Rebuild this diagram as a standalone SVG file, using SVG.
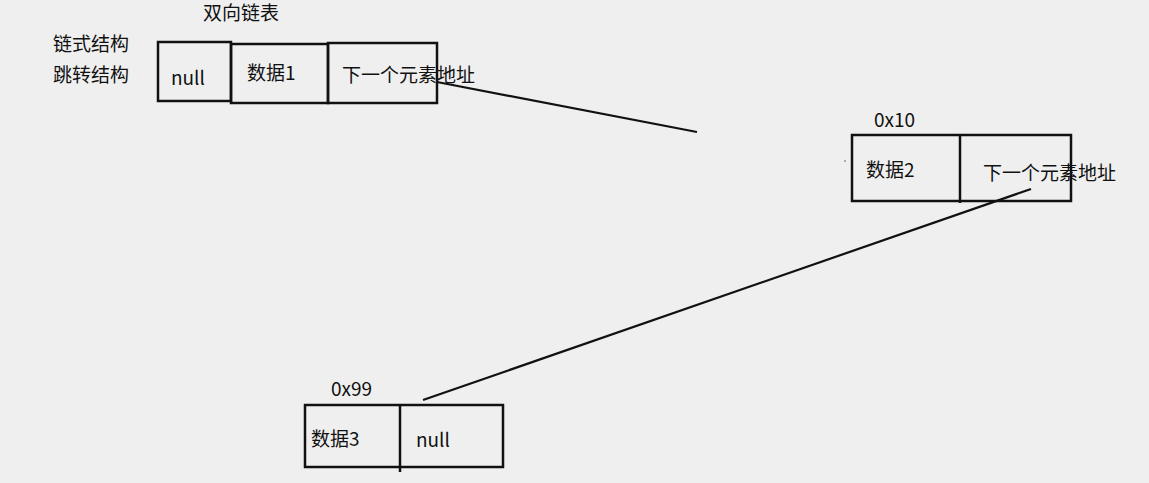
<svg xmlns="http://www.w3.org/2000/svg" width="1149" height="483" viewBox="0 0 1149 483">
<style>
.t{font-family:"Noto Sans CJK SC","Liberation Sans",sans-serif;font-size:19px;fill:#111}
.b{fill:none;stroke:#111;stroke-width:2.5}
.c{stroke:#111;stroke-width:2.2;fill:none}
</style>
<rect width="1149" height="483" fill="#efefef"/>
<g id="labels">
<text class="t" x="203" y="20">双向链表</text>
<text class="t" x="53" y="51">链式结构</text>
<text class="t" x="53" y="82">跳转结构</text>
</g>
<g id="node1">
<rect class="b" x="158" y="42" width="73" height="59"/>
<rect class="b" x="231" y="44" width="97" height="59"/>
<rect class="b" x="328" y="43" width="109" height="60"/>
<text class="t" x="171" y="85">null</text>
<text class="t" x="247" y="80">数据1</text>
<text class="t" x="342" y="82">下一个元素地址</text>
</g>
<g id="node2">
<text class="t" x="874" y="127">0x10</text>
<rect class="b" x="852" y="135" width="219" height="66"/>
<line class="b" x1="960" y1="135" x2="960" y2="203"/>
<text class="t" x="866" y="177">数据2</text>
<text class="t" x="983" y="180">下一个元素地址</text>
<circle cx="845" cy="161" r="0.8" fill="#555"/>
</g>
<g id="node3">
<text class="t" x="331" y="396">0x99</text>
<rect class="b" x="305" y="405" width="198" height="62"/>
<line class="b" x1="400" y1="406" x2="400" y2="472"/>
<text class="t" x="311" y="446">数据3</text>
<text class="t" x="416" y="447">null</text>
</g>
<g id="connectors">
<line class="c" x1="437" y1="82" x2="697" y2="132"/>
<line class="c" x1="1031" y1="189" x2="423" y2="400"/>
</g>
</svg>
